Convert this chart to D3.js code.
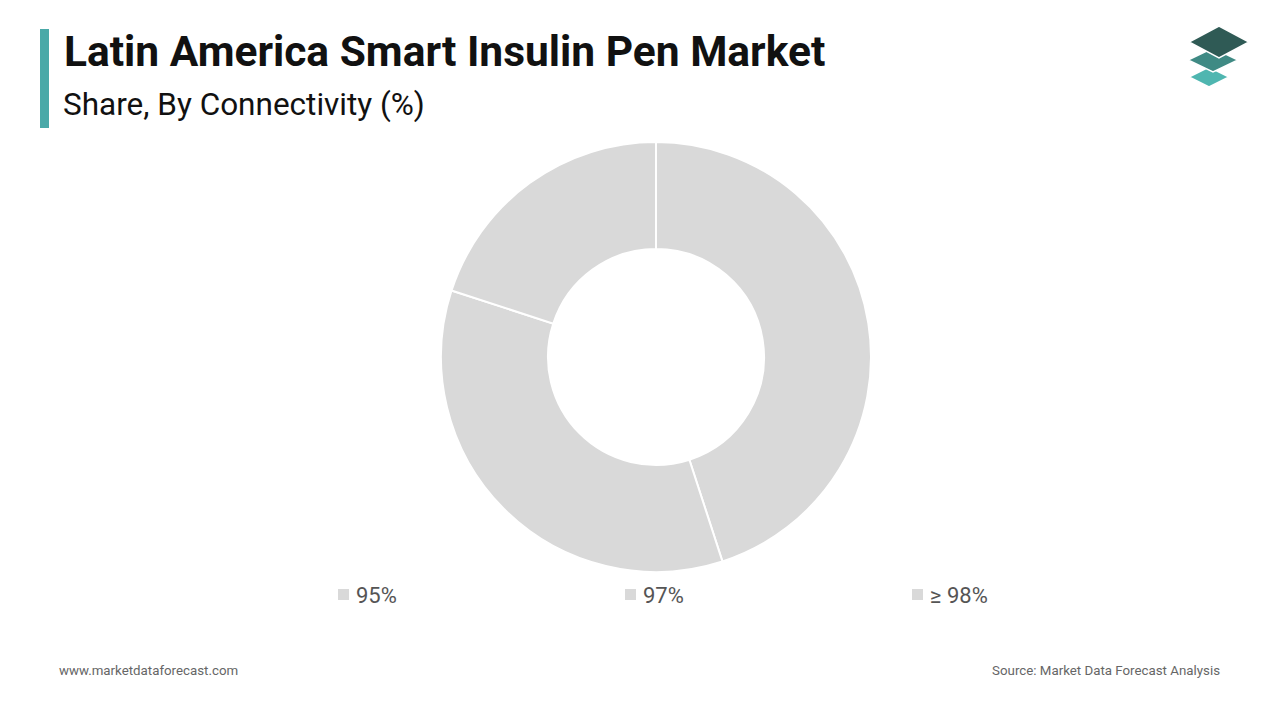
<!DOCTYPE html>
<html lang="en">
<head>
<meta charset="UTF-8">
<title>Latin America Smart Insulin Pen Market</title>
<script src="https://d3js.org/d3.v7.min.js"></script>
<style>
  body { margin: 0; background: #fff; font-family: Roboto, sans-serif; }
</style>
</head>
<body>
<div id="chart"></div>
<script>
  const categories = ["95%", "97%", "\u2265 98%"];
  const shares = [45, 35, 20];
  const legendX = [338, 625, 912];

  const svg = d3.select("#chart").append("svg")
      .attr("width", 1280).attr("height", 720);

  // header
  svg.append("rect").attr("x", 40).attr("y", 29).attr("width", 9).attr("height", 99).attr("fill", "#4aa9a8");
  svg.append("text").attr("x", 64).attr("y", 66).attr("font-size", 42.5).attr("font-weight", 700)
      .attr("fill", "#111").text("Latin America Smart Insulin Pen Market");
  svg.append("text").attr("x", 63).attr("y", 115).attr("font-size", 31.5).attr("fill", "#111")
      .text("Share, By Connectivity (%)");

  // logo: three stacked diamonds
  const logo = svg.append("g");
  [[1209, 77, 20, 10, "#4fb6b0"], [1213, 60, 25, 12, "#3f8a84"], [1219, 42, 30, 16, "#2f5a55"]]
    .forEach(([cx, cy, rx, ry, c]) => {
      logo.append("polygon")
        .attr("points", `${cx - rx},${cy} ${cx},${cy - ry} ${cx + rx},${cy} ${cx},${cy + ry}`)
        .attr("fill", c).attr("stroke", "#fff").attr("stroke-width", 1.5);
    });

  // donut
  const pie = d3.pie().sort(null).value(d => d)(shares);
  const arc = d3.arc().innerRadius(108).outerRadius(215);
  svg.append("g").attr("transform", "translate(656,357)")
    .selectAll("path").data(pie).join("path")
      .attr("d", arc).attr("fill", "#d9d9d9")
      .attr("stroke", "#fff").attr("stroke-width", 2);

  // legend
  const lg = svg.append("g").selectAll("g").data(categories).join("g")
      .attr("transform", (d, i) => `translate(${legendX[i]},595)`);
  lg.append("rect").attr("x", 0).attr("y", -6).attr("width", 11).attr("height", 11).attr("fill", "#d9d9d9");
  lg.append("text").attr("x", 18).attr("y", 8).attr("font-size", 22).attr("fill", "#555").text(d => d);

  // footer
  svg.append("text").attr("x", 59).attr("y", 675).attr("font-size", 13.3).attr("fill", "#666")
      .text("www.marketdataforecast.com");
  svg.append("text").attr("x", 1220).attr("y", 675).attr("font-size", 13.3).attr("fill", "#666")
      .attr("text-anchor", "end").text("Source: Market Data Forecast Analysis");
</script>
</body>
</html>
